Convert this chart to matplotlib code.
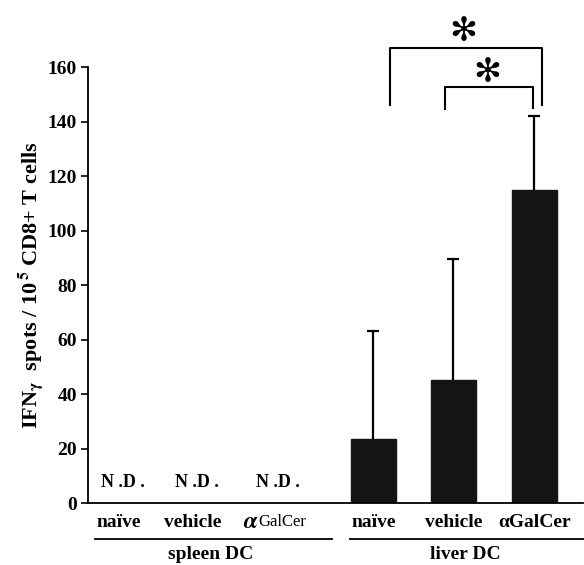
import numpy as np
import matplotlib.pyplot as plt

plt.rcParams['font.family'] = ['Liberation Serif', 'DejaVu Serif']
plt.rcParams['font.weight'] = 'bold'
plt.rcParams['mathtext.fontset'] = 'stix'

# categories (spleen DC: not detected, liver DC: measured)
spleen_labels = ['naïve', 'vehicle', 'GalCer']
liver_labels = ['naïve', 'vehicle', 'αGalCer']
liver_mean = [23.5, 45, 115]
liver_err = [39.5, 44.5, 27]

spleen_x = np.array([0, 0.92, 1.94])
liver_x = np.array([3.18, 4.18, 5.19])

fig = plt.figure(figsize=(5.84, 5.65), dpi=100)
ax = fig.add_axes([0.1507, 0.1097, 0.8476, 0.7717])

ax.bar(liver_x, liver_mean, width=0.56, color='#141414', edgecolor='#141414')
eb = ax.errorbar(liver_x, liver_mean, yerr=[[0, 0, 0], liver_err], fmt='none',
                 ecolor='black', elinewidth=1.6, capsize=4, capthick=1.6)
eb[1][0].set_visible(False)

for x in spleen_x:
    ax.text(x + 0.05, 7.7, 'N .D .', ha='center', va='center', fontsize=13)

ax.set_xlim(-0.3875, 5.8)
ax.set_ylim(0, 160)
ax.set_yticks(np.arange(0, 161, 20))
ax.set_xticks([])
ax.tick_params(axis='y', direction='out', length=5, width=1.2, labelsize=14, pad=3)
for lbl in ax.get_yticklabels():
    lbl.set_fontweight('bold')
ax.spines['top'].set_visible(False)
ax.spines['right'].set_visible(False)
ax.spines['left'].set_linewidth(1.3)
ax.spines['bottom'].set_linewidth(1.3)

ax.set_ylabel(r'IFN$_{\mathbf{\gamma}}$  spots / 10$^{\,5}$ CD8+ T cells',
              fontsize=16, fontweight='bold', labelpad=2)

# category labels below axis
tr = ax.get_xaxis_transform()
lab_y = -0.044
for x, t in zip(spleen_x[:2], spleen_labels[:2]):
    ax.text(x, lab_y, t, transform=tr, ha='center', va='center', fontsize=14)
ax.text(spleen_x[2] - 0.29, lab_y, r'$\alpha$', transform=tr, ha='center', va='center',
        fontsize=17)
ax.text(spleen_x[2] + 0.1, lab_y, spleen_labels[2], transform=tr, ha='center', va='center',
        fontsize=12, fontweight='normal')
for x, t in zip(liver_x, liver_labels):
    ax.text(x, lab_y, t, transform=tr, ha='center', va='center', fontsize=14)

# group lines and labels
line_y = -0.083
ax.plot([-0.3, 2.66], [line_y, line_y], transform=tr, color='black', lw=1.3, clip_on=False)
ax.plot([2.89, 5.82], [line_y, line_y], transform=tr, color='black', lw=1.3, clip_on=False)
ax.text(1.15, -0.119, 'spleen DC', transform=tr, ha='center', va='center', fontsize=14)
ax.text(4.33, -0.119, 'liver DC', transform=tr, ha='center', va='center', fontsize=14)

# significance brackets
ax.plot([liver_x[0] + 0.21, liver_x[0] + 0.21, liver_x[2] + 0.1, liver_x[2] + 0.1],
        [146, 167, 167, 146], color='black', lw=1.5, clip_on=False)
ax.plot([liver_x[1] - 0.1, liver_x[1] - 0.1, liver_x[2] - 0.02, liver_x[2] - 0.02],
        [144.6, 152.7, 152.7, 145], color='black', lw=1.5, clip_on=False)
ax.text(4.3, 173, '✻', ha='center', va='center', fontsize=24, family=['DejaVu Sans'], clip_on=False)
ax.text(4.6, 158, '✻', ha='center', va='center', fontsize=24, family=['DejaVu Sans'], clip_on=False)

fig.savefig('out.png', dpi=100)
